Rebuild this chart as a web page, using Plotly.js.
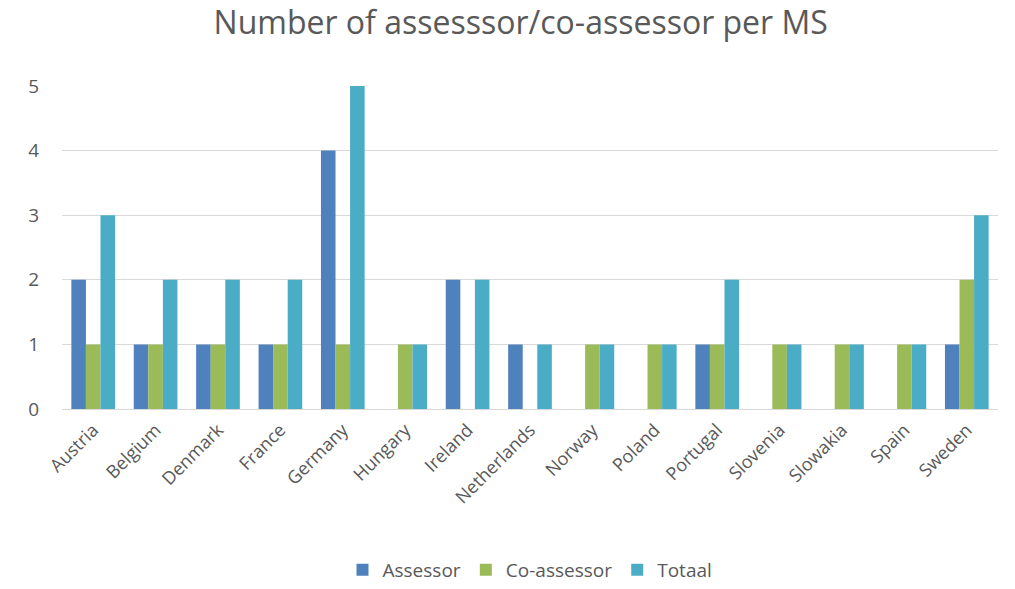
<!DOCTYPE html>
<html>
<head>
<meta charset="utf-8">
<script src="https://cdn.plot.ly/plotly-3.0.1.min.js"></script>
<style>html,body{margin:0;padding:0;background:#fff;}#chart{width:1015px;height:589px;}</style>
</head>
<body>
<div id="chart"></div>
<script>
const countries = ["Austria","Belgium","Denmark","France","Germany","Hungary","Ireland","Netherlands","Norway","Poland","Portugal","Slovenia","Slowakia","Spain","Sweden"];
const assessor   = [2,1,1,1,4,0,2,1,0,0,1,0,0,0,1];
const coAssessor = [1,1,1,1,1,1,0,0,1,1,1,1,1,1,2];
const totaal     = [3,2,2,2,5,1,2,1,1,1,2,1,1,1,3];
const yTicks = [0,1,2,3,4,5];

const font = "Open Sans, Noto Sans, sans-serif";
const txt = "#595959";

const traces = [
  {name:"Assessor", y:assessor, color:"#4F81BD"},
  {name:"Co-assessor", y:coAssessor, color:"#9BBB59"},
  {name:"Totaal", y:totaal, color:"#4BACC6"}
].map(s => ({
  type:"bar", name:s.name, x:countries, y:s.y,
  marker:{color:s.color, line:{width:0}},
  hoverinfo:"x+y+name"
}));

const layout = {
  width:1015, height:589,
  margin:{l:62, r:17, t:86, b:180},
  paper_bgcolor:"#fff", plot_bgcolor:"#fff",
  title:{text:"Number of assesssor/co-assessor per MS", x:0.513, xref:"container", xanchor:"center", y:0.962, yanchor:"middle",
         font:{family:font, size:32, color:txt}},
  barmode:"group", bargap:0.3, bargroupgap:0,
  xaxis:{type:"category", tickangle:-45, tickfont:{family:font, size:18, color:txt},
         showgrid:false, zeroline:false, showline:false, ticks:"", automargin:false, ticklabelstandoff:6},
  yaxis:{range:[0,5], tickvals:yTicks, tickfont:{family:font, size:19, color:txt},
         showgrid:true, gridcolor:"#D9D9D9", gridwidth:1, zeroline:true, zerolinecolor:"#D9D9D9",
         showline:false, ticks:"", ticklabelstandoff:22, automargin:false},
  showlegend:true,
  legend:{orientation:"h", x:0.5, xanchor:"center", xref:"paper", yref:"container", y:-0.012, yanchor:"bottom",
          font:{family:font, size:19, color:txt}, itemwidth:30, traceorder:"normal"}
};

Plotly.newPlot("chart", traces, layout, {displayModeBar:false, staticPlot:true});
</script>
</body>
</html>
